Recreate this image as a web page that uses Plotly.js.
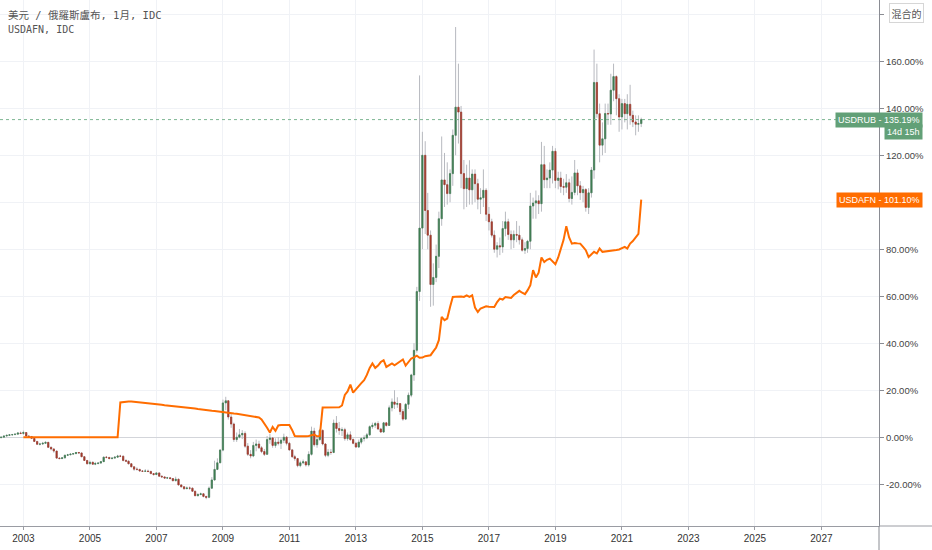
<!DOCTYPE html>
<html>
<head>
<meta charset="utf-8">
<script src="https://cdn.plot.ly/plotly-3.0.1.min.js"></script>
<style>
  html, body { margin: 0; padding: 0; background: #ffffff; }
  #chart { width: 932px; height: 550px; }
</style>
</head>
<body>
<div id="chart"></div>
<script>
// ------------------------------------------------------------------------------
// DATA  (percent change, TradingView percentage scale)

// USDRUB monthly candles, 2002-05 .. 2021-08
const rub_start = [2002, 5];

const rub_open = [
    -0.2, 0.0, 0.5, 0.8, 1.0, 1.1, 1.3, 1.8,
    1.6, 2.0, 0.5, 0.3, -0.5, -1.8, -3.0, -2.9, -2.6, -2.2, -4.3, -5.0,
    -5.9, -8.9, -9.1, -8.8, -7.7, -7.5, -7.2, -7.0, -6.5, -6.7, -8.3, -9.9,
    -11.3, -10.7, -11.5, -11.2, -11.0, -10.4, -8.5, -8.6, -9.1, -8.9, -8.5, -8.0,
    -8.1, -9.9, -10.2, -11.3, -12.6, -13.6, -13.7, -14.4, -14.5, -14.4, -14.6, -15.5,
    -15.9, -15.2, -16.6, -16.9, -17.4, -17.3, -17.6, -18.5, -17.9, -20.3, -21.1, -21.9,
    -21.6, -21.7, -23.0, -24.9, -24.4, -24.1, -25.2, -25.6, -21.7, -18.2, -13.7, -10.9,
    -5.5, 14.6, 15.5, 8.6, 5.6, -1.0, 0.0, 1.0, 1.6, -3.8, -7.3, -8.0,
    -3.5, -2.9, -4.5, -6.1, -7.3, -1.0, -0.3, -3.5, -2.1, -2.6, -1.3, 0.0,
    -2.6, -5.4, -8.3, -9.1, -12.1, -10.9, -10.5, -11.8, -7.3, 2.6, -3.2, -1.0,
    2.9, -2.9, -7.7, -6.4, -6.5, 6.0, 3.7, 2.9, 3.2, -0.6, 1.0, -1.0,
    -2.6, -4.2, -2.1, -0.6, -0.3, 1.0, 4.5, 5.1, 5.8, 3.5, 2.2, 6.1,
    5.0, 12.5, 15.0, 14.0, 14.3, 10.9, 7.7, 14.0, 17.9, 26.5, 37.0, 62.0,
    89.0, 120.0, 96.5, 86.0, 65.0, 68.0, 77.0, 93.0, 109.5, 107.5, 103.7, 112.2,
    128.5, 140.5, 138.4, 112.2, 105.8, 110.3, 105.3, 112.0, 107.9, 101.3, 101.9, 105.1,
    94.9, 91.7, 86.0, 80.0, 81.5, 81.0, 88.8, 91.7, 86.3, 84.0, 86.3, 86.0,
    84.0, 79.6, 80.3, 83.4, 98.4, 99.7, 100.6, 99.4, 116.0, 109.6, 110.3, 113.7,
    121.7, 109.3, 110.3, 106.7, 106.4, 108.3, 101.6, 104.2, 112.5, 107.0, 104.1, 105.4,
    97.8, 104.0, 113.7, 151.0, 137.7, 124.3, 127.0, 137.8, 137.6, 147.7, 153.5, 144.1,
    136.3, 142.0, 137.7, 141.7, 137.0, 134.2, 133.2, 133.5
];

const rub_high = [
    0.3, 0.7, 1.0, 1.2, 1.4, 1.5, 2.0, 2.4,
    2.8, 2.2, 0.9, 0.4, -0.4, -1.6, -2.4, -2.0, -1.8, -2.0, -4.0, -4.8,
    -5.8, -8.5, -8.6, -7.4, -7.1, -7.0, -6.8, -6.3, -6.3, -6.6, -8.0, -9.7,
    -10.0, -10.3, -10.5, -10.7, -10.1, -8.3, -8.0, -8.5, -8.5, -8.2, -7.5, -7.5,
    -7.8, -9.4, -9.9, -11.0, -12.4, -12.8, -13.5, -14.0, -13.6, -13.8, -14.2, -15.3,
    -14.9, -15.1, -16.3, -16.8, -16.9, -17.0, -17.4, -16.8, -17.6, -20.1, -20.9, -21.0,
    -21.0, -21.4, -22.8, -23.8, -23.6, -23.8, -25.0, -21.0, -17.0, -10.0, -9.0, -5.0,
    16.0, 17.2, 15.8, 10.0, 6.2, 2.0, 3.5, 3.0, 2.5, -2.5, -5.5, -2.0,
    -1.0, -1.5, -3.8, -5.0, 0.5, 1.5, 0.0, -0.5, 0.0, -0.5, 1.5, 0.5,
    -2.0, -5.0, -7.5, -8.8, -10.0, -9.5, -10.2, -6.0, 4.5, 4.0, 0.5, 3.5,
    3.3, -2.5, -5.0, -5.0, 7.5, 9.0, 6.5, 4.2, 4.0, 2.0, 2.5, -0.5,
    -2.0, -1.0, 0.0, 0.8, 1.8, 5.0, 6.2, 6.5, 6.8, 4.0, 6.5, 6.5,
    13.5, 16.5, 20.0, 17.0, 14.5, 12.0, 14.5, 19.0, 27.0, 40.0, 64.0, 154.0,
    130.0, 126.0, 104.0, 88.0, 74.0, 82.0, 96.0, 128.0, 121.0, 117.0, 114.0, 131.0,
    174.6, 159.0, 141.0, 118.0, 116.0, 117.9, 114.0, 114.0, 110.0, 106.0, 114.0, 106.0,
    98.0, 93.0, 88.0, 83.0, 85.0, 92.0, 96.0, 93.0, 88.0, 88.0, 92.0, 90.0,
    85.0, 83.0, 84.0, 104.0, 102.0, 105.0, 103.0, 125.7, 124.0, 114.0, 117.0, 124.0,
    123.0, 113.0, 113.0, 110.0, 112.0, 110.0, 111.0, 118.0, 114.0, 109.0, 107.0, 106.0,
    106.0, 115.0, 165.0, 159.0, 142.0, 134.0, 142.0, 142.0, 154.7, 159.0, 154.0, 146.0,
    144.0, 144.0, 146.0, 150.0, 139.0, 137.0, 137.0, 136.0
];

const rub_low = [
    -0.4, -0.1, 0.4, 0.6, 0.8, 1.0, 1.2, 1.3,
    1.0, 0.3, -0.3, -0.8, -2.0, -3.3, -3.5, -3.2, -2.7, -4.6, -5.6, -6.6,
    -9.1, -9.3, -9.3, -9.0, -7.9, -7.6, -7.3, -7.1, -6.9, -8.5, -10.1, -11.6,
    -11.6, -11.8, -11.9, -11.6, -11.3, -10.5, -9.0, -9.4, -9.4, -9.0, -8.7, -8.5,
    -10.3, -10.6, -11.6, -12.8, -14.3, -14.2, -14.6, -14.8, -14.8, -14.9, -15.7, -16.3,
    -16.1, -16.8, -17.2, -17.7, -17.8, -17.9, -18.8, -18.8, -20.6, -21.4, -22.4, -22.1,
    -22.4, -23.3, -25.1, -25.2, -24.7, -25.6, -26.4, -26.0, -22.0, -18.5, -14.0, -11.0,
    -6.0, 11.5, 7.5, 4.0, -2.0, -2.0, -0.5, -0.8, -4.5, -8.0, -9.0, -8.5,
    -6.0, -5.0, -6.8, -8.0, -7.5, -2.8, -4.5, -4.5, -3.5, -5.0, -2.5, -3.5,
    -5.8, -8.8, -10.0, -12.8, -12.8, -11.5, -12.5, -12.5, -7.8, -4.0, -4.5, -1.5,
    -3.5, -8.5, -8.5, -7.5, -6.8, 2.0, 1.0, 0.5, -1.5, -1.5, -1.5, -3.0,
    -4.5, -4.5, -3.0, -1.8, -0.8, 0.5, 3.6, 4.0, 3.0, 1.8, 1.8, 4.5,
    4.8, 11.0, 12.0, 12.5, 9.5, 7.0, 7.3, 12.0, 17.0, 24.0, 36.0, 58.0,
    80.0, 86.5, 80.0, 55.5, 56.0, 66.0, 72.0, 90.0, 98.0, 99.0, 100.0, 107.0,
    120.0, 125.0, 106.0, 97.0, 98.0, 99.0, 99.0, 100.0, 97.0, 95.0, 98.0, 92.0,
    88.0, 85.0, 78.5, 76.5, 77.5, 78.5, 85.5, 84.0, 80.0, 80.5, 83.0, 82.0,
    79.0, 78.0, 78.5, 80.0, 93.0, 93.0, 95.0, 96.0, 106.0, 106.0, 106.0, 108.0,
    106.0, 105.5, 104.0, 103.0, 104.0, 100.0, 99.0, 103.0, 103.0, 101.0, 100.0, 96.0,
    95.0, 102.0, 110.0, 136.0, 117.0, 120.0, 121.0, 133.0, 133.0, 143.0, 137.0, 130.0,
    131.0, 134.0, 131.0, 133.0, 132.0, 128.5, 130.0, 132.0
];

const rub_close = [
    0.0, 0.5, 0.8, 1.0, 1.1, 1.3, 1.8, 1.6,
    2.0, 0.5, 0.3, -0.5, -1.8, -3.0, -2.9, -2.6, -2.2, -4.3, -5.0, -5.9,
    -8.9, -9.1, -8.8, -7.7, -7.5, -7.2, -7.0, -6.5, -6.7, -8.3, -9.9, -11.3,
    -10.7, -11.5, -11.2, -11.0, -10.4, -8.5, -8.6, -9.1, -8.9, -8.5, -8.0, -8.1,
    -9.9, -10.2, -11.3, -12.6, -13.6, -13.7, -14.4, -14.5, -14.4, -14.6, -15.5, -15.9,
    -15.2, -16.6, -16.9, -17.4, -17.3, -17.6, -18.5, -17.9, -20.3, -21.1, -21.9, -21.6,
    -21.7, -23.0, -24.9, -24.4, -24.1, -25.2, -25.6, -21.7, -18.2, -13.7, -10.9, -5.5,
    14.6, 15.5, 8.6, 5.6, -1.0, 0.0, 1.0, 1.6, -3.8, -7.3, -8.0, -3.5,
    -2.9, -4.5, -6.1, -7.3, -1.0, -0.3, -3.5, -2.1, -2.6, -1.3, 0.0, -2.6,
    -5.4, -8.3, -9.1, -12.1, -10.9, -10.5, -11.8, -7.3, 2.6, -3.2, -1.0, 2.9,
    -2.9, -7.7, -6.4, -6.5, 6.0, 3.7, 2.9, 3.2, -0.6, 1.0, -1.0, -2.6,
    -4.2, -2.1, -0.6, -0.3, 1.0, 4.5, 5.1, 5.8, 3.5, 2.2, 6.1, 5.0,
    12.5, 15.0, 14.0, 14.3, 10.9, 7.7, 14.0, 17.9, 26.5, 37.0, 62.0, 89.0,
    120.0, 96.5, 86.0, 65.0, 68.0, 77.0, 93.0, 109.5, 107.5, 103.7, 112.2, 128.5,
    140.5, 138.4, 112.2, 105.8, 110.3, 105.3, 112.0, 107.9, 101.3, 101.9, 105.1, 94.9,
    91.7, 86.0, 80.0, 81.5, 81.0, 88.8, 91.7, 86.3, 84.0, 86.3, 86.0, 84.0,
    79.6, 80.3, 83.4, 98.4, 99.7, 100.6, 99.4, 116.0, 109.6, 110.3, 113.7, 121.7,
    109.3, 110.3, 106.7, 106.4, 108.3, 101.6, 104.2, 112.5, 107.0, 104.1, 105.4, 97.8,
    104.0, 113.7, 151.0, 137.7, 124.3, 127.0, 137.8, 137.6, 147.7, 153.5, 144.1, 136.3,
    142.0, 137.7, 141.7, 137.0, 134.2, 133.2, 133.5, 135.19
];

// USDAFN monthly closes, 2003-01 .. 2021-08
const afn_start = [2003, 1];

const afn_close = [
    0, 0, 0, 0, 0, 0, 0, 0, 0, 0, 0, 0,
    0, 0, 0, 0, 0, 0, 0, 0, 0, 0, 0, 0,
    0, 0, 0, 0, 0, 0, 0, 0, 0, 0, 0, 14.8,
    15.0, 15.1, 15.2, 15.2, 15.1, 15.0, 14.8, 14.7, 14.6, 14.4, 14.3, 14.2,
    14.0, 13.9, 13.8, 13.6, 13.5, 13.4, 13.2, 13.1, 13.0, 12.8, 12.7, 12.6,
    12.4, 12.3, 12.2, 12.0, 11.8, 11.7, 11.6, 11.4, 11.3, 11.2, 11.0, 10.9,
    10.7, 10.6, 10.5, 10.3, 10.1, 10.0, 9.8, 9.6, 9.5, 9.3, 9.1, 8.9,
    8.6, 8.4, 7.6, 6.0, 4.0, 2.0, 4.4, 2.7, 5.0, 5.2, 5.3, 5.2,
    5.2, 3.0, 0.5, 0.4, 0.3, 0.4, 0.4, 0.5, 0.8, 1.1, 0.4, 0.5,
    12.6, 12.6, 12.6, 12.7, 12.6, 12.6, 12.7, 13.5, 18.0, 19.5, 22.4, 19.0,
    20.5, 22.1, 23.0, 24.3, 26.5, 29.5, 31.4, 29.5, 30.5, 32.0, 32.8, 29.9,
    30.6, 31.4, 30.6, 31.5, 32.3, 33.1, 30.5, 32.0, 33.5, 34.0, 34.7, 33.8,
    33.9, 34.5, 34.7, 34.9, 36.5, 38.2, 41.3, 51.2, 49.8, 50.5, 55.4, 59.7,
    59.8, 60.0, 59.9, 59.7, 60.4, 59.7, 60.4, 55.2, 53.3, 54.8, 55.3, 55.7,
    55.5, 55.4, 55.4, 57.5, 59.0, 58.6, 59.7, 59.5, 59.3, 60.5, 61.5, 62.3,
    61.5, 60.9, 62.5, 64.7, 71.1, 68.0, 70.0, 76.5, 74.6, 75.5, 76.0, 75.0,
    73.6, 76.5, 79.6, 84.0, 89.8, 85.0, 82.4, 82.7, 82.5, 82.4, 81.0, 79.6,
    76.7, 78.0, 78.9, 78.2, 80.3, 78.9, 79.0, 79.1, 79.3, 79.5, 79.7, 79.9,
    80.5, 81.0, 80.3, 82.4, 83.5, 85.0, 86.5, 101.1
];

const year_ticks  = ['2003', '2005', '2007', '2009', '2011', '2013', '2015', '2017', '2019', '2021', '2023', '2025', '2027'];
const pct_ticks   = [-20, 0, 20, 40, 60, 80, 100, 120, 140, 160, 180];
// tick labels that sit under the price labels / scale button
const pct_hidden  = [100, 180];

const title_lines = ['美元 / 俄羅斯盧布, 1月, IDC', 'USDAFN, IDC'];
const rub_label   = 'USDRUB';
const afn_label   = 'USDAFN';
const countdown   = '14d 15h';
const scale_btn   = '混合的';


// ------------------------------------------------------------------------------
// STYLE

const green      = '#3f7d52';
const red        = '#a2392a';
const wick       = '#b7b9bf';
const orange     = '#ff6d00';
const label_grn  = '#62a077';
const grid_color = '#f0f2f6';
const font_ui    = '"Liberation Sans", Arial, sans-serif';
const font_leg   = '"DejaVu Sans Mono", "Noto Sans CJK TC", monospace';


// ------------------------------------------------------------------------------
// UTILITIES

function monthDates(start, n) {
    const out = [];
    for (let i = 0; i < n; i++) {
        const y = start[0] + Math.floor((start[1] - 1 + i) / 12);
        const m = (start[1] - 1 + i) % 12 + 1;
        out.push(y + '-' + String(m).padStart(2, '0') + '-01');
    }
    return out;
}

function fmtPct(v) {
    return v.toFixed(2) + '%';
}


// ------------------------------------------------------------------------------
// TRACES

const rub_dates = monthDates(rub_start, rub_close.length);
const afn_dates = monthDates(afn_start, afn_close.length);

// body-only extents so the coloured bodies sit on top of the grey wicks
const body_high = rub_open.map((o, i) => Math.max(o, rub_close[i]));
const body_low  = rub_open.map((o, i) => Math.min(o, rub_close[i]));

const wick_trace = {
    type: 'candlestick',
    x: rub_dates,
    open: rub_open, high: rub_high, low: rub_low, close: rub_close,
    increasing: { line: { color: wick, width: 1 }, fillcolor: wick },
    decreasing: { line: { color: wick, width: 1 }, fillcolor: wick },
    whiskerwidth: 0,
    showlegend: false,
    hoverinfo: 'skip'
};

const body_trace = {
    type: 'candlestick',
    x: rub_dates,
    open: rub_open, high: body_high, low: body_low, close: rub_close,
    increasing: { line: { color: green, width: 0.6 }, fillcolor: green },
    decreasing: { line: { color: red, width: 0.6 }, fillcolor: red },
    whiskerwidth: 0,
    showlegend: false,
    hoverinfo: 'skip'
};

const afn_trace = {
    type: 'scatter',
    mode: 'lines',
    x: afn_dates,
    y: afn_close,
    line: { color: orange, width: 2 },
    showlegend: false,
    hoverinfo: 'skip'
};


// ------------------------------------------------------------------------------
// LAYOUT

const rub_last = rub_close[rub_close.length - 1];
const afn_last = afn_close[afn_close.length - 1];

const annotations = [
    {
        text: title_lines[0],
        xref: 'paper', yref: 'paper', x: 0.007, y: 0.972,
        xanchor: 'left', yanchor: 'middle', showarrow: false,
        font: { family: font_leg, size: 10.5, color: '#555555' }
    },
    {
        text: title_lines[1],
        xref: 'paper', yref: 'paper', x: 0.007, y: 0.943,
        xanchor: 'left', yanchor: 'middle', showarrow: false,
        font: { family: font_leg, size: 10, color: '#555555' }
    },
    {
        text: rub_label + ' - ' + fmtPct(rub_last),
        xref: 'paper', yref: 'y', x: 1.0505, y: rub_last,
        xanchor: 'right', yanchor: 'middle', showarrow: false,
        bgcolor: label_grn, borderpad: 2,
        font: { family: font_ui, size: 9, color: '#ffffff' }
    },
    {
        text: countdown,
        xref: 'paper', yref: 'y', x: 1.0505, y: rub_last - 5.2,
        xanchor: 'right', yanchor: 'middle', showarrow: false,
        bgcolor: label_grn, borderpad: 2,
        font: { family: font_ui, size: 9, color: '#ffffff' }
    },
    {
        text: afn_label + ' - ' + fmtPct(afn_last),
        xref: 'paper', yref: 'y', x: 1.0505, y: afn_last,
        xanchor: 'right', yanchor: 'middle', showarrow: false,
        bgcolor: orange, borderpad: 2,
        font: { family: font_ui, size: 9, color: '#ffffff' }
    },
    {
        text: scale_btn,
        xref: 'paper', yref: 'y', x: 1.0318, y: 180.5,
        xanchor: 'center', yanchor: 'middle', showarrow: false,
        bgcolor: '#ffffff', bordercolor: '#d6d6d6', borderwidth: 1, borderpad: 1.5,
        font: { family: '"Noto Sans CJK TC", sans-serif', size: 10, color: '#555555' }
    }
];

const layout = {
    width: 932,
    height: 550,
    margin: { l: 0, r: 53, t: 0, b: 24 },
    paper_bgcolor: '#ffffff',
    plot_bgcolor: '#ffffff',
    showlegend: false,
    hovermode: false,
    dragmode: false,
    xaxis: {
        type: 'date',
        range: ['2002-04-19', '2028-09-25'],
        tickvals: year_ticks.map(y => y + '-01-01'),
        ticktext: year_ticks,
        showgrid: true,
        gridcolor: grid_color,
        gridwidth: 1,
        showline: true,
        linecolor: '#9a9ca3',
        linewidth: 1,
        ticks: 'outside',
        ticklen: 3,
        tickcolor: '#9a9ca3',
        tickfont: { family: font_ui, size: 10, color: '#333333' },
        rangeslider: { visible: false },
        fixedrange: true
    },
    yaxis: {
        side: 'right',
        range: [-37.8, 186.1],
        tickvals: pct_ticks,
        ticktext: pct_ticks.map(v => pct_hidden.includes(v) ? '' : fmtPct(v)),
        showgrid: true,
        gridcolor: grid_color,
        gridwidth: 1,
        zeroline: true,
        zerolinecolor: '#d3d5da',
        zerolinewidth: 1,
        showline: true,
        linecolor: '#8a8c93',
        linewidth: 1,
        ticks: 'outside',
        ticklen: 4,
        tickcolor: '#8a8c93',
        tickfont: { family: font_ui, size: 9.5, color: '#444444' },
        fixedrange: true
    },
    shapes: [
        {
            type: 'line', xref: 'paper', yref: 'y',
            x0: 0, x1: 1, y0: rub_last, y1: rub_last,
            line: { color: '#7db592', width: 1, dash: 'dot' }
        },
        // panel borders running past the plot corner
        {
            type: 'line', xref: 'paper', yref: 'paper',
            x0: 1, x1: 1, y0: 0, y1: -0.06,
            line: { color: '#8a8c93', width: 1 }
        },
        {
            type: 'line', xref: 'paper', yref: 'paper',
            x0: 1, x1: 1.07, y0: 0, y1: 0,
            line: { color: '#9a9ca3', width: 1 }
        }
    ],
    annotations: annotations
};

Plotly.newPlot('chart', [wick_trace, afn_trace, body_trace], layout, { staticPlot: true, displayModeBar: false });
</script>
</body>
</html>
